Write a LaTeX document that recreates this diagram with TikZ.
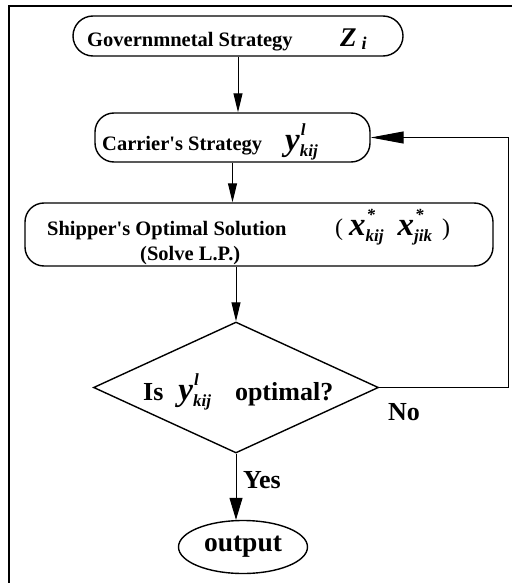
\documentclass[tikz,border=0pt]{standalone}
\usepackage{fontspec}
\setmainfont{Liberation Serif}
\usetikzlibrary{shapes.geometric,arrows.meta}

% big bold-italic letter followed by a stacked superscript and subscript
\newcommand\stackidx[2]{%
  \makebox[0pt][l]{\hspace{1pt}\raisebox{15pt}{\fontsize{17}{17}\selectfont\bfseries\itshape #1}}%
  \raisebox{-6pt}{\fontsize{17}{17}\selectfont\bfseries\itshape #2}}
\newcommand\bigvar[1]{{\fontsize{33}{34}\selectfont\bfseries\itshape #1}}

\begin{document}
\begin{tikzpicture}[x=1pt,y=-1pt,
  box/.style={draw,line width=1.4pt,rounded corners=19pt,inner sep=0pt},
  lbl/.style={inner sep=0pt,anchor=base west,font=\fontsize{20.5}{24}\selectfont\bfseries},
  big/.style={inner sep=0pt,anchor=base west,font=\fontsize{26}{30}\selectfont\bfseries},
  flow/.style={line width=1pt,-{Triangle[length=19pt,width=9pt]}}]
\useasboundingbox (0,0) rectangle (512,583);

% frame
\draw[line width=2pt] (8.5,583) -- (8.5,6) -- (512,6);

% boxes
\node[box,minimum width=330pt,minimum height=40pt,rounded corners=20pt] (gov) at (238,36) {};
\node[box,minimum width=275pt,minimum height=49pt] (car) at (232.5,137.5) {};
\node[box,minimum width=468pt,minimum height=63pt] (ship) at (259,234.5) {};
\node[draw,diamond,line width=1.4pt,inner sep=0pt,minimum width=285pt,minimum height=131pt] (dec) at (236,387.5) {};
\node[draw,ellipse,line width=1.4pt,inner sep=0pt,minimum width=129pt,minimum height=53pt,
      font=\fontsize{27.5}{30}\selectfont\bfseries] (out) at (243,547) {output};
\coordinate (loop) at (508,0);

% connectors
\draw[flow] (gov.south) -- (gov.south |- car.north);
\draw[flow] (car.south) -- (car.south |- ship.north);
\draw[flow] (dec.north |- ship.south) -- (dec.north);
\draw[line width=1pt,-{Triangle[length=22pt,width=13pt]}] (dec.south) -- (dec.south |- out.north);
\draw[line width=1pt,-{Triangle[length=33pt,width=12pt]}] (dec.east) -- (dec.east -| loop) |- (car.east);

% texts
\node[lbl] (govt) at (87,47) {Governmnetal Strategy};
\node[lbl] (govz) at (340,47) {{\fontsize{27}{28}\selectfont\itshape Z}\hspace{5pt}\raisebox{-3pt}{\fontsize{18}{18}\selectfont\itshape i}};
\node[lbl] (cart) at (102,150) {Carrier\textquotesingle s Strategy};
\node[lbl] (cary) at (285,150) {\bigvar{y}\stackidx{l}{kij}};
\node[lbl] (shipt) at (47,235) {Shipper\textquotesingle s Optimal Solution};
\node[lbl] (shipl) at (140,260) {(Solve L.P.)};
\node[lbl] (shipx) at (335,235) {{\mdseries\fontsize{24}{26}\selectfont(}\hspace{6pt}\bigvar{x}\stackidx{*}{kij}\hspace{14pt}\bigvar{x}\stackidx{*}{jik}\hspace{10pt}{\mdseries\fontsize{24}{26}\selectfont)}};
\node[big] (dect) at (143,400) {Is\hspace{15pt}\bigvar{y}\stackidx{l}{kij}\hspace{24pt}optimal?};
\node[big] (no) at (388,420) {No};
\node[big] (yes) at (243,488) {Yes};
\end{tikzpicture}
\end{document}
